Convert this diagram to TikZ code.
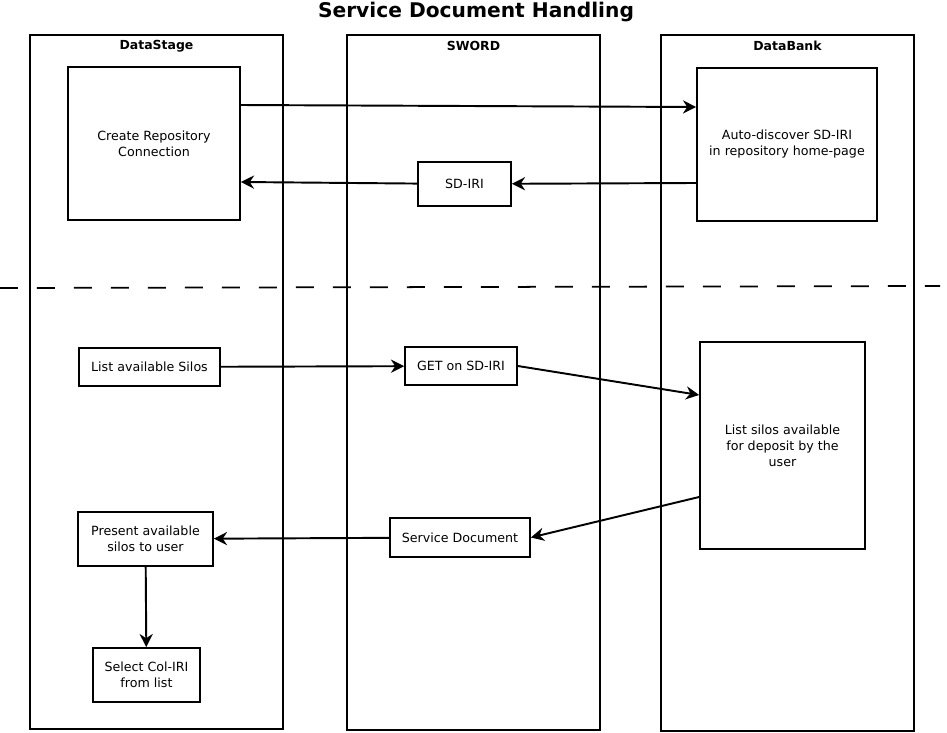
\documentclass[tikz,border=0pt]{standalone}
\usepackage{fontspec}
\setmainfont{DejaVu Sans}
\usepackage{tikz}
\usetikzlibrary{arrows.meta}
\tikzstyle{lane}=[draw, line width=1pt, inner sep=0pt, minimum width=5.06cm]
\tikzstyle{lanehead}=[font=\fontsize{7.1}{9}\selectfont\bfseries]
\tikzstyle{task}=[draw, fill=white, line width=1pt, inner sep=0pt, align=center, font=\fontsize{7.2}{9.1}\selectfont]
\tikzstyle{arrow}=[draw=black, line width=1.1pt, >={Stealth[length=7.5pt, width=7.5pt]}]

\begin{document}
\begin{tikzpicture}[x=0.02cm, y=-0.02cm]
		   \useasboundingbox (0, 0) rectangle (947, 733);
		   \node (title) at (476, 12) [font=\fontsize{11.5}{14}\selectfont\bfseries] {Service Document Handling};
		   \begin{scope}
			   \node (datastage) at (156.5, 382) [lane, minimum height=13.88cm] {};
			   \node (sword) at (473.5, 382.5) [lane, minimum height=13.9cm] {};
			   \node (databank) at (787.5, 383) [lane, minimum height=13.92cm] {};
			   \node (hds) at (156.5, 46) [lanehead] {DataStage};
			   \node (hsw) at (473.5, 46) [lanehead] {SWORD};
			   \node (hdb) at (787.5, 46) [lanehead] {DataBank};
		   \end{scope}
		   \begin{scope}
			   \coordinate (cutl) at (0, 288);
			   \coordinate (cutr) at (940, 286);
			   \draw [line width=1pt, dash pattern=on 0.36cm off 0.38cm] (cutl) -- (cutr);
		   \end{scope}
		   \begin{scope}
			   \node (connect) at (154, 143.5) [task, minimum width=3.44cm, minimum height=3.06cm] {Create Repository\\Connection};
			   \node (discover) at (787, 144.5) [task, minimum width=3.6cm, minimum height=3.06cm] {Auto-discover SD-IRI\\in repository home-page};
			   \node (sdiri) at (464.5, 184) [task, minimum width=1.86cm, minimum height=0.88cm] {SD-IRI};
			   \node (listsilos) at (149.5, 367) [task, minimum width=2.82cm, minimum height=0.76cm] {List available Silos};
			   \node (get) at (461, 366) [task, minimum width=2.24cm, minimum height=0.76cm] {GET on SD-IRI};
			   \node (deposit) at (782.5, 445.5) [task, minimum width=3.3cm, minimum height=4.14cm] {List silos available\\for deposit by the\\user};
			   \node (present) at (145.5, 539) [task, minimum width=2.7cm, minimum height=1.08cm] {Present available\\silos to user};
			   \node (servdoc) at (460, 537.5) [task, minimum width=2.8cm, minimum height=0.78cm] {Service Document};
			   \node (select) at (146.5, 675) [task, minimum width=2.14cm, minimum height=1.08cm] {Select Col-IRI\\from list};
		   \end{scope}
		   \begin{scope}
			   \path ([yshift=0.77cm]connect.east) edge [arrow, ->] ([yshift=0.75cm]discover.west);
			   \path ([yshift=-0.77cm]discover.west) edge [arrow, ->] (sdiri);
			   \path (sdiri) edge [arrow, ->] ([yshift=-0.77cm]connect.east);
			   \path (listsilos) edge [arrow, ->] (get);
			   \path (get.east) edge [arrow, ->] ([yshift=1.01cm]deposit.west);
			   \path ([yshift=-1.03cm]deposit.west) edge [arrow, ->] (servdoc.east);
			   \path (servdoc) edge [arrow, ->] (present);
			   \path (present) edge [arrow, ->] (select);
		   \end{scope}
	   \end{tikzpicture}
\end{document}
